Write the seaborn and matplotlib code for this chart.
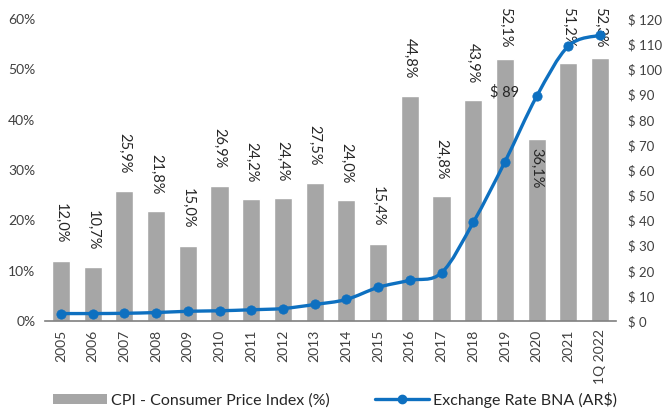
import numpy as np
import pandas as pd
import matplotlib.pyplot as plt
import seaborn as sns
from matplotlib.path import Path
from matplotlib.patches import PathPatch, Patch
from matplotlib.lines import Line2D
from matplotlib.ticker import FuncFormatter

# ---------------------------------
# DATA
# ---------------------------------

years = ["2005", "2006", "2007", "2008", "2009", "2010", "2011", "2012", "2013",
         "2014", "2015", "2016", "2017", "2018", "2019", "2020", "2021", "1Q 2022"]

cpi = [12.0, 10.7, 25.9, 21.8, 15.0, 26.9, 24.2, 24.4, 27.5,
       24.0, 15.4, 44.8, 24.8, 43.9, 52.1, 36.1, 51.2, 52.3]

fx = [3.0, 3.0, 3.1, 3.4, 3.9, 4.1, 4.5, 5.0, 6.6,
      8.6, 13.4, 16.2, 19.2, 39.2, 63.3, 89.3, 109.3, 113.6]

bar_color = "#A6A6A6"
line_color = "#0E70C0"
text_color = "#404040"

sns.set_style("white")
plt.rcParams["font.family"] = ["Lato", "DejaVu Sans"]

df = pd.DataFrame({"year": years, "cpi": cpi, "fx": fx, "pos": np.arange(len(years))})

fig, ax = plt.subplots(figsize=(6.63, 4.08), dpi=100)
fig.subplots_adjust(left=0.068, right=0.929, bottom=0.213, top=0.953)

# ---------------------------------
# CPI BARS
# ---------------------------------

sns.barplot(data=df, x="year", y="cpi", color=bar_color, saturation=1,
            width=0.57, ax=ax)

ax.set_ylim(0, 60)
ax.set_xlim(-0.5, len(years) - 0.5)
ax.set_yticks(range(0, 61, 10))
ax.yaxis.set_major_formatter(FuncFormatter(lambda v, p: f"{v:.0f}%"))
ax.set_xlabel("")
ax.set_ylabel("")
ax.tick_params(axis="y", length=0, pad=7, labelsize=10, labelcolor=text_color)
ax.tick_params(axis="x", length=0, pad=6, labelsize=10, labelcolor=text_color,
               labelrotation=90)

for s in ["top", "left", "right"]:
    ax.spines[s].set_visible(False)
ax.spines["bottom"].set_color("#7F7F7F")
ax.spines["bottom"].set_linewidth(1.2)

for i, v in enumerate(cpi):
    label = f"{v:.1f}%".replace(".", ",")
    if years[i] == "2020":
        ax.text(i, v - 1.8, label, rotation=270, ha="center", va="top",
                fontsize=10.5, color="#262626")
    else:
        ax.text(i, min(v + 3.4, 54.3), label, rotation=270, ha="center",
                va="bottom", fontsize=10.5, color="#262626")

# ---------------------------------
# EXCHANGE RATE LINE (smoothed)
# ---------------------------------

ax2 = ax.twinx()
ax2.set_ylim(0, 120)
ax2.set_yticks(range(0, 121, 10))
ax2.yaxis.set_major_formatter(FuncFormatter(lambda v, p: f"$ {v:.0f}"))
ax2.tick_params(axis="y", length=0, pad=9, labelsize=9.5, labelcolor=text_color)
for s in ax2.spines.values():
    s.set_visible(False)

pts = np.column_stack([df["pos"].values, df["fx"].values]).astype(float)
verts = [pts[0]]
codes = [Path.MOVETO]
n = len(pts)
for i in range(n - 1):
    p0 = pts[i - 1] if i > 0 else pts[i]
    p1 = pts[i]
    p2 = pts[i + 1]
    p3 = pts[i + 2] if i + 2 < n else pts[i + 1]
    c1 = p1 + (p2 - p0) / 6
    c2 = p2 - (p3 - p1) / 6
    verts += [c1, c2, p2]
    codes += [Path.CURVE4] * 3

ax2.add_patch(PathPatch(Path(verts, codes), facecolor="none",
                        edgecolor=line_color, lw=2.4, zorder=3))

sns.scatterplot(data=df, x="pos", y="fx", ax=ax2, color=line_color, s=45,
                edgecolor=line_color, zorder=4, legend=False)
ax2.set_xlim(-0.5, len(years) - 0.5)
ax2.set_xlabel("")
ax2.set_ylabel("")

ax2.text(14, fx[15] + 1.7, f"$ {fx[15]:.0f}", ha="center", va="center",
         fontsize=10.5, color="#262626")

# ---------------------------------
# LEGEND
# ---------------------------------

handles = [
    Patch(facecolor=bar_color, edgecolor="none"),
    Line2D([0], [0], color=line_color, lw=2.4, marker="o", markersize=6),
]
fig.legend(handles, ["CPI - Consumer Price Index (%)", "Exchange Rate BNA (AR$)"],
           loc="center", bbox_to_anchor=(0.505, 0.02), ncol=2, frameon=False,
           fontsize=11.5, handlelength=3.4, handleheight=0.6, handletextpad=0.25,
           columnspacing=2.8, labelcolor="#262626")

fig.savefig("out.png", dpi=100)
